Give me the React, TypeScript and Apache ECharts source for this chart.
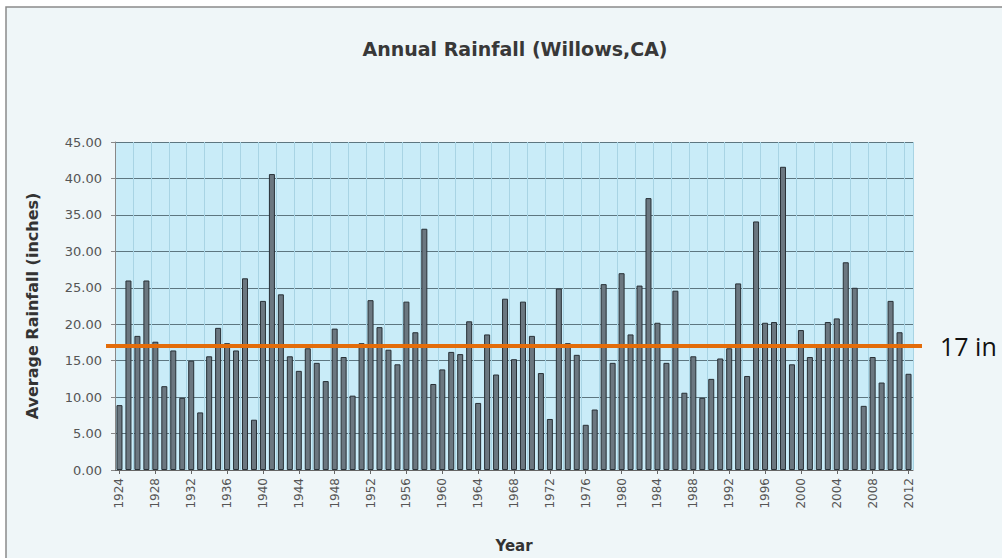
import React, { useEffect, useRef } from "react";
import * as echarts from "echarts";

const years: string[] = [];
for (let y = 1924; y <= 2012; y++) years.push(String(y));

const rainfall: number[] = [
  8.9, 26.0, 18.4, 26.0, 17.6, 11.5, 16.4, 9.9, 15.0, 7.9,
  15.6, 19.5, 17.4, 16.4, 26.3, 6.9, 23.2, 40.6, 24.1, 15.6,
  13.6, 16.7, 14.7, 12.2, 19.4, 15.5, 10.2, 17.4, 23.3, 19.6,
  16.5, 14.5, 23.1, 18.9, 33.1, 11.8, 13.8, 16.2, 15.9, 20.4,
  9.2, 18.6, 13.1, 23.5, 15.2, 23.1, 18.4, 13.3, 7.0, 24.9,
  17.4, 15.8, 6.2, 8.3, 25.5, 14.7, 27.0, 18.6, 25.3, 37.3,
  20.2, 14.7, 24.6, 10.6, 15.6, 9.9, 12.5, 15.3, 16.7, 25.6,
  12.9, 34.1, 20.2, 20.3, 41.6, 14.5, 19.2, 15.5, 17.2, 20.3,
  20.8, 28.5, 25.0, 8.8, 15.5, 12.0, 23.2, 18.9, 13.2,
];

const averageLine = 17;
const averageLabel = "17 in";
const titleText = "Annual Rainfall (Willows,CA)";
const yAxisName = "Average Rainfall (inches)";
const xAxisName = "Year";

export default function App() {
  const ref = useRef<HTMLDivElement>(null);
  useEffect(() => {
    if (!ref.current) return;
    const chart = echarts.init(ref.current, null, { renderer: "svg" });
    const font = "'DejaVu Sans', Verdana, sans-serif";
    chart.setOption({
      animation: false,
      backgroundColor: "#ffffff",
      title: {
        text: titleText,
        left: 510,
        top: 34,
        textAlign: "center",
        textStyle: { fontFamily: font, fontSize: 19, fontWeight: "bold", color: "#383838" },
      },
      grid: {
        left: 115,
        right: 89,
        top: 142,
        bottom: 80,
        show: true,
        backgroundColor: "#c9ecf8",
        borderWidth: 0,
      },
      xAxis: {
        type: "category",
        data: years,
        name: xAxisName,
        nameLocation: "middle",
        nameGap: 68,
        nameTextStyle: { fontFamily: font, fontSize: 15, fontWeight: "bold", color: "#333" },
        axisLine: { lineStyle: { color: "#666", width: 1 } },
        axisTick: { show: true, interval: 3, alignWithLabel: true, length: 4, lineStyle: { color: "#666" } },
        axisLabel: {
          interval: 3,
          rotate: 90,
          fontFamily: font,
          fontSize: 12,
          color: "#555",
          margin: 8,
        },
        splitLine: { show: true, interval: 1, lineStyle: { color: "#a8d4e4", width: 1 } },
      },
      yAxis: {
        type: "value",
        min: 0,
        max: 45,
        interval: 5,
        name: yAxisName,
        nameLocation: "middle",
        nameGap: 75,
        nameTextStyle: { fontFamily: font, fontSize: 16, fontWeight: "bold", color: "#333" },
        axisLine: { show: true, lineStyle: { color: "#888", width: 1 } },
        axisTick: { show: true, length: 4, lineStyle: { color: "#888" } },
        axisLabel: {
          fontFamily: font,
          fontSize: 13,
          color: "#555",
          margin: 13,
          formatter: (v: number) => v.toFixed(2),
        },
        splitLine: { show: true, lineStyle: { color: "#5d7680", width: 1 } },
      },
      series: [
        {
          type: "bar",
          data: rainfall,
          barWidth: 6,
          itemStyle: { color: "#6b7780", borderColor: "#283036", borderWidth: 1 },
        },
      ],
    });

    const yPx = chart.convertToPixel({ yAxisIndex: 0 }, averageLine) as number;
    chart.setOption({
      graphic: [
        {
          type: "rect",
          z: -1,
          silent: true,
          shape: { x: 6, y: 7, width: 1010, height: 570 },
          style: { fill: "#eff6f8", stroke: "#8a8a8a", lineWidth: 1.5 },
        },
        {
          type: "line",
          z: 100,
          shape: { x1: 106, y1: yPx, x2: 922, y2: yPx },
          style: { stroke: "#e36c0a", lineWidth: 4 },
        },
        {
          type: "text",
          z: 100,
          x: 940,
          y: yPx,
          style: {
            text: averageLabel,
            fontFamily: "'Open Sans', 'Liberation Sans', sans-serif",
            fontSize: 25,
            fill: "#111",
            verticalAlign: "middle",
          },
        },
      ],
    });
    return () => chart.dispose();
  }, []);
  return (
    <div
      ref={ref}
      style={{ position: "fixed", left: 0, top: 0, width: 1002, height: 558 }}
    />
  );
}
